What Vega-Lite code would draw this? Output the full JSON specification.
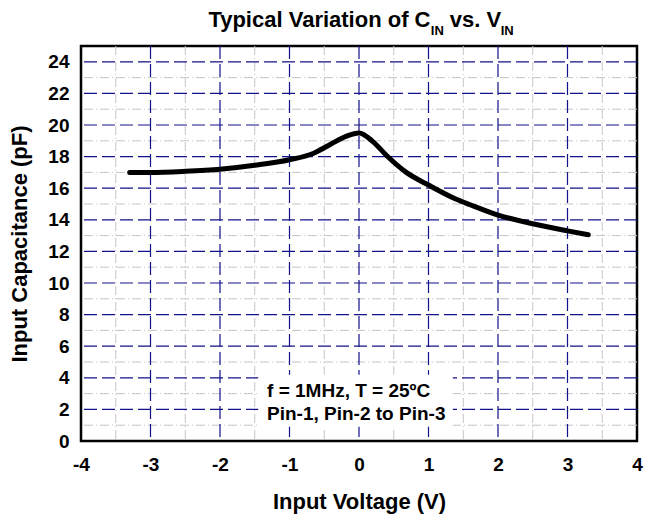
{
  "$schema": "https://vega.github.io/schema/vega-lite/v6.json",
  "width": 556,
  "height": 395,
  "autosize": "none",
  "padding": {"left": 81, "top": 46, "right": 8, "bottom": 78},
  "background": "white",
  "config": {
    "font": "Liberation Sans",
    "view": {"stroke": "black", "strokeWidth": 2.5},
    "axis": {
      "ticks": false, "domain": false, "grid": false,
      "labelFlush": false, "labelOverlap": false
    },
    "axisX": {"labelFontSize": 19, "labelFontWeight": "bold", "labelColor": "black", "labelPadding": 14,
      "titleFontSize": 22, "titleFontWeight": "bold", "titleColor": "black", "titlePadding": 17},
    "axisY": {"labelFontSize": 19, "labelFontWeight": "bold", "labelColor": "black", "labelPadding": 12,
      "titleFontSize": 22, "titleFontWeight": "bold", "titleColor": "black", "titlePadding": 16}
  },
  "datasets": {
    "curve": [
      {"v": -3.3, "c": 17.0},
      {"v": -3.0, "c": 17.0},
      {"v": -2.5, "c": 17.07},
      {"v": -2.0, "c": 17.2},
      {"v": -1.5, "c": 17.45},
      {"v": -1.0, "c": 17.8},
      {"v": -0.66, "c": 18.2},
      {"v": -0.42, "c": 18.75},
      {"v": -0.18, "c": 19.3},
      {"v": 0.0, "c": 19.5},
      {"v": 0.2, "c": 18.95},
      {"v": 0.4, "c": 18.05},
      {"v": 0.68, "c": 17.0},
      {"v": 1.0, "c": 16.2},
      {"v": 1.4, "c": 15.3},
      {"v": 1.6, "c": 14.95},
      {"v": 2.0, "c": 14.3},
      {"v": 2.5, "c": 13.75},
      {"v": 3.0, "c": 13.3},
      {"v": 3.3, "c": 13.05}
    ],
    "xMajor": [{"g": -3}, {"g": -2}, {"g": -1}, {"g": 0}, {"g": 1}, {"g": 2}, {"g": 3}],
    "xMinor": [{"g": -3.5}, {"g": -2.5}, {"g": -1.5}, {"g": -0.5}, {"g": 0.5}, {"g": 1.5}, {"g": 2.5}, {"g": 3.5}],
    "yMajor": [{"g": 2}, {"g": 4}, {"g": 6}, {"g": 8}, {"g": 10}, {"g": 12}, {"g": 14}, {"g": 16}, {"g": 18}, {"g": 20}, {"g": 22}, {"g": 24}],
    "yMinor": [{"g": 1}, {"g": 3}, {"g": 5}, {"g": 7}, {"g": 9}, {"g": 11}, {"g": 13}, {"g": 15}, {"g": 17}, {"g": 19}, {"g": 21}, {"g": 23}],
    "box": [{"x1": -1.45, "x2": 1.35, "y1": 0.9, "y2": 4.2}],
    "notes": [
      {"x": -1.323, "y": 3.15, "t": "f = 1MHz, T = 25ºC"},
      {"x": -1.323, "y": 1.72, "t": "Pin-1, Pin-2 to Pin-3"}
    ],
    "titleMain": [
      {"x": -2.167, "y": 26.2, "t": "Typical Variation of C"},
      {"x": 1.306, "y": 26.2, "t": "vs. V"}
    ],
    "titleSub": [
      {"x": 1.033, "y": 25.68, "t": "IN"},
      {"x": 2.039, "y": 25.68, "t": "IN"}
    ]
  },
  "layer": [
    {
      "data": {"name": "xMinor"},
      "mark": {"type": "rule", "color": "#c4c4c4", "strokeWidth": 1, "strokeDash": [9, 3, 1, 3]},
      "encoding": {"x": {"field": "g", "type": "quantitative", "scale": {"domain": [-4, 4], "nice": false},
        "axis": {"values": [-4, -3, -2, -1, 0, 1, 2, 3, 4], "labelExpr": "'' + datum.value", "title": "Input Voltage (V)"}}}
    },
    {
      "data": {"name": "yMinor"},
      "mark": {"type": "rule", "color": "#c4c4c4", "strokeWidth": 1, "strokeDash": [9, 3, 1, 3]},
      "encoding": {"y": {"field": "g", "type": "quantitative", "scale": {"domain": [0, 25], "nice": false},
        "axis": {"values": [0, 2, 4, 6, 8, 10, 12, 14, 16, 18, 20, 22, 24], "labelExpr": "'' + datum.value", "title": "Input Capacitance (pF)"}}}
    },
    {
      "data": {"name": "yMajor"},
      "mark": {"type": "rule", "color": "#12128a", "strokeWidth": 1.2, "strokeDash": [13, 5]},
      "encoding": {"y": {"field": "g", "type": "quantitative", "scale": {"domain": [0, 25], "nice": false},
        "axis": {"values": [0, 2, 4, 6, 8, 10, 12, 14, 16, 18, 20, 22, 24], "labelExpr": "'' + datum.value", "title": "Input Capacitance (pF)"}}}
    },
    {
      "data": {"name": "xMajor"},
      "mark": {"type": "rule", "color": "#12128a", "strokeWidth": 1.2, "strokeDash": [13, 5]},
      "encoding": {"x": {"field": "g", "type": "quantitative", "scale": {"domain": [-4, 4], "nice": false},
        "axis": {"values": [-4, -3, -2, -1, 0, 1, 2, 3, 4], "labelExpr": "'' + datum.value", "title": "Input Voltage (V)"}}}
    },
    {
      "data": {"name": "box"},
      "mark": {"type": "rect", "color": "white", "opacity": 1},
      "encoding": {
        "x": {"field": "x1", "type": "quantitative", "scale": {"domain": [-4, 4], "nice": false},
          "axis": {"values": [-4, -3, -2, -1, 0, 1, 2, 3, 4], "labelExpr": "'' + datum.value", "title": "Input Voltage (V)"}},
        "x2": {"field": "x2"},
        "y": {"field": "y1", "type": "quantitative", "scale": {"domain": [0, 25], "nice": false},
          "axis": {"values": [0, 2, 4, 6, 8, 10, 12, 14, 16, 18, 20, 22, 24], "labelExpr": "'' + datum.value", "title": "Input Capacitance (pF)"}},
        "y2": {"field": "y2"}
      }
    },
    {
      "data": {"name": "notes"},
      "mark": {"type": "text", "fontSize": 19, "fontWeight": "bold", "color": "black", "align": "left", "baseline": "middle"},
      "encoding": {
        "x": {"field": "x", "type": "quantitative", "scale": {"domain": [-4, 4], "nice": false},
          "axis": {"values": [-4, -3, -2, -1, 0, 1, 2, 3, 4], "labelExpr": "'' + datum.value", "title": "Input Voltage (V)"}},
        "y": {"field": "y", "type": "quantitative", "scale": {"domain": [0, 25], "nice": false},
          "axis": {"values": [0, 2, 4, 6, 8, 10, 12, 14, 16, 18, 20, 22, 24], "labelExpr": "'' + datum.value", "title": "Input Capacitance (pF)"}},
        "text": {"field": "t"}
      }
    },
    {
      "data": {"name": "curve"},
      "mark": {"type": "line", "color": "black", "strokeWidth": 5, "interpolate": "monotone", "strokeCap": "round", "strokeJoin": "round"},
      "encoding": {
        "x": {"field": "v", "type": "quantitative", "scale": {"domain": [-4, 4], "nice": false},
          "axis": {"values": [-4, -3, -2, -1, 0, 1, 2, 3, 4], "labelExpr": "'' + datum.value", "title": "Input Voltage (V)"}},
        "y": {"field": "c", "type": "quantitative", "scale": {"domain": [0, 25], "nice": false},
          "axis": {"values": [0, 2, 4, 6, 8, 10, 12, 14, 16, 18, 20, 22, 24], "labelExpr": "'' + datum.value", "title": "Input Capacitance (pF)"}}
      }
    },
    {
      "data": {"name": "titleMain"},
      "mark": {"type": "text", "fontSize": 22, "fontWeight": "bold", "color": "black", "align": "left", "baseline": "alphabetic", "clip": false},
      "encoding": {
        "x": {"field": "x", "type": "quantitative", "scale": {"domain": [-4, 4], "nice": false},
          "axis": {"values": [-4, -3, -2, -1, 0, 1, 2, 3, 4], "labelExpr": "'' + datum.value", "title": "Input Voltage (V)"}},
        "y": {"field": "y", "type": "quantitative", "scale": {"domain": [0, 25], "nice": false},
          "axis": {"values": [0, 2, 4, 6, 8, 10, 12, 14, 16, 18, 20, 22, 24], "labelExpr": "'' + datum.value", "title": "Input Capacitance (pF)"}},
        "text": {"field": "t"}
      }
    },
    {
      "data": {"name": "titleSub"},
      "mark": {"type": "text", "fontSize": 13, "fontWeight": "bold", "color": "black", "align": "left", "baseline": "alphabetic", "clip": false},
      "encoding": {
        "x": {"field": "x", "type": "quantitative", "scale": {"domain": [-4, 4], "nice": false},
          "axis": {"values": [-4, -3, -2, -1, 0, 1, 2, 3, 4], "labelExpr": "'' + datum.value", "title": "Input Voltage (V)"}},
        "y": {"field": "y", "type": "quantitative", "scale": {"domain": [0, 25], "nice": false},
          "axis": {"values": [0, 2, 4, 6, 8, 10, 12, 14, 16, 18, 20, 22, 24], "labelExpr": "'' + datum.value", "title": "Input Capacitance (pF)"}},
        "text": {"field": "t"}
      }
    }
  ]
}
